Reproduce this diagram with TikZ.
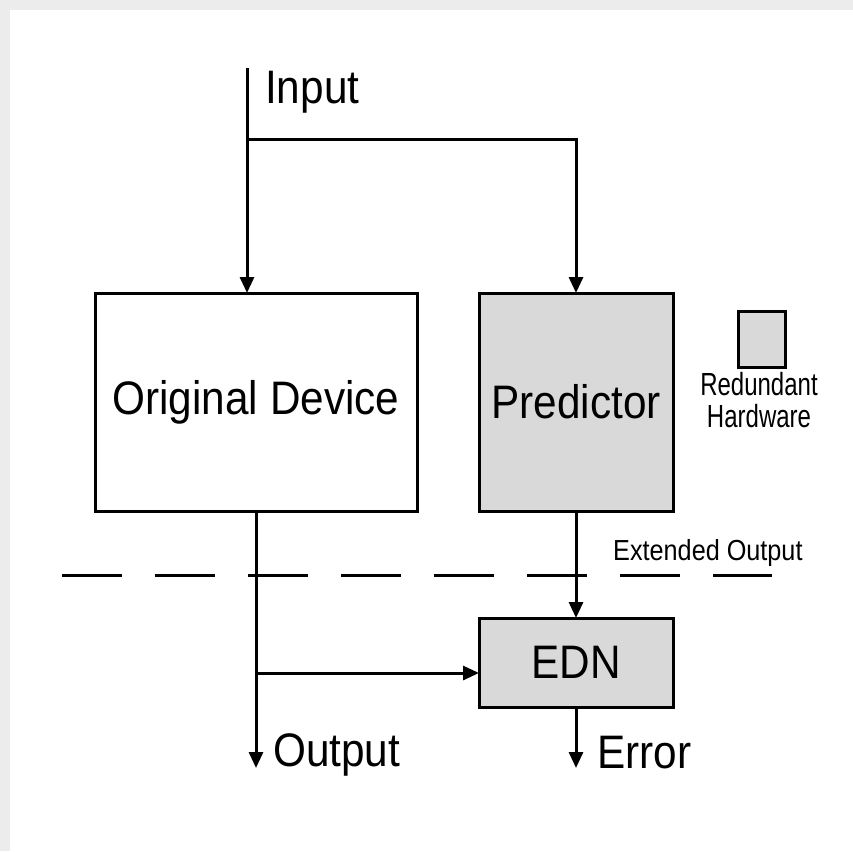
\documentclass[tikz,border=0pt]{standalone}
\usepackage{fontspec}
\setmainfont{Liberation Sans}
\newfontfamily\bigfont[FakeStretch=0.9]{Liberation Sans}
\newfontfamily\midfont[FakeStretch=0.87]{Liberation Sans}
\newfontfamily\smallfont[FakeStretch=0.75]{Liberation Sans}
\usetikzlibrary{arrows.meta}
\definecolor{redgray}{HTML}{D9D9D9}
\definecolor{framegray}{HTML}{ECECEC}
\begin{document}
\begin{tikzpicture}[x=1pt,y=-1pt,
  box/.style={draw=black, line width=3pt, inner sep=0pt, outer sep=0pt,
    font=\bigfont\fontsize{47}{56}\selectfont},
  hwbox/.style={box, fill=redgray},
  wire/.style={line width=3pt},
  arr/.style={wire, -{Triangle[width=14pt,length=16pt]}},
  biglabel/.style={inner sep=0pt, anchor=base west, font=\bigfont\fontsize{47}{56}\selectfont},
  midlabel/.style={inner sep=0pt, anchor=base west, font=\midfont\fontsize{29}{34}\selectfont},
  smalllabel/.style={inner sep=0pt, anchor=base, font=\smallfont\fontsize{32}{34}\selectfont},
  sep/.style={line width=3pt, dash pattern=on 60pt off 33pt}]
% frame and canvas
\fill[framegray] (0,0) rectangle (853,851);
\fill[white] (10,10) rectangle (853,851);
\useasboundingbox (0,0) rectangle (853,851);

% blocks
\node[box, minimum width=322pt, minimum height=218pt] (orig) at (256,402) {Original Device};
\node[hwbox, minimum width=194pt, minimum height=218pt] (pred) at (576,402) {Predictor};
\node[hwbox, minimum width=194pt, minimum height=89pt] (edn) at (576,662.5) {EDN};

% legend
\node[draw=black, line width=3pt, fill=redgray, inner sep=0pt, outer sep=0pt,
  minimum width=47pt, minimum height=56pt] (leg) at (761.5,339) {};
\node[smalllabel] (leg1) at (759,395) {Redundant};
\node[smalllabel] (leg2) at (759,427) {Hardware};

% signal end points
\coordinate (in) at (247,68);
\coordinate (split) at (247,139);
\coordinate (out) at (256,768);
\coordinate (tap) at (256,673);
\coordinate (err) at (576,768);

% labels
\node[biglabel] (inlbl) at (265,103) {Input};
\node[biglabel] (outlbl) at (273,766) {Output};
\node[biglabel] (errlbl) at (597,768) {Error};
\node[midlabel] (extlbl) at (613,560) {Extended Output};

% connections
\draw[arr] (in) -- (in |- orig.north);
\draw[arr] (split) -| (pred.north);
\draw[arr] (orig.south) -- (out);
\draw[arr] (tap) -- (tap -| edn.west);
\draw[arr] (pred.south) -- (edn.north);
\draw[arr] (edn.south) -- (err);

% extended output boundary
\coordinate (sepL) at (62,575);
\coordinate (sepR) at (772,575);
\draw[sep] (sepL) -- (sepR);
\end{tikzpicture}
\end{document}
